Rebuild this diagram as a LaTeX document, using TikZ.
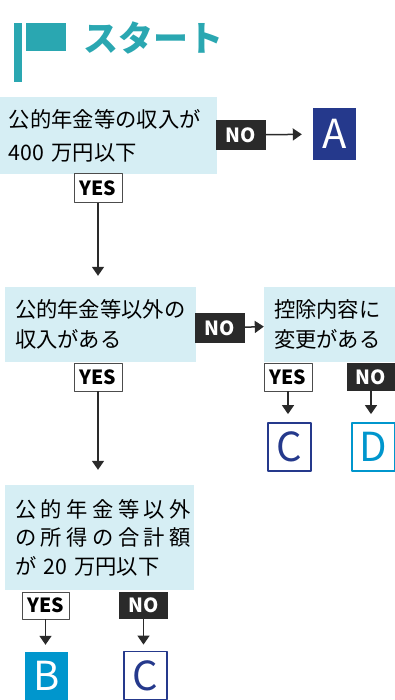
\documentclass[tikz,border=0pt]{standalone}
\usepackage{fontspec}
\setmainfont{Noto Sans CJK JP}
\newfontfamily\jpwide[LetterSpace=21]{Noto Sans CJK JP}
\newfontfamily\jpplain{Noto Sans CJK JP}
\usetikzlibrary{arrows.meta}
\definecolor{qfill}{HTML}{D6EEF4}
\definecolor{startteal}{HTML}{2AA7B1}
\definecolor{navy}{HTML}{25398C}
\definecolor{skyblue}{HTML}{0096CD}
\definecolor{darkline}{HTML}{2A2A2A}
\begin{document}
\begin{tikzpicture}[x=1pt, y=-1pt, line join=round, >={Triangle[length=9pt,width=12pt]},
	qbox/.style={fill=qfill, inner xsep=10pt, inner ysep=0pt, align=left, font=\fontsize{21.3}{30}\selectfont},
	nobox/.style={fill=darkline, text=white, minimum width=50pt, minimum height=30pt, inner sep=0pt, font=\fontsize{19.5}{19.5}\selectfont\bfseries},
	yesbox/.style={fill=white, draw=black!70, line width=0.8pt, minimum width=48pt, minimum height=29pt, inner sep=0pt, font=\fontsize{19.5}{19.5}\selectfont\bfseries},
	fullans/.style={minimum width=43pt, minimum height=50pt, inner sep=0pt, text=white, font=\fontsize{40}{40}\selectfont},
	openans/.style={fill=white, line width=1.8pt, minimum width=43pt, minimum height=48pt, inner sep=0pt, font=\fontsize{40}{40}\selectfont},
	link/.style={->, draw=darkline, line width=1.5pt}]
	\useasboundingbox (0,0) rectangle (395,700);
	\fill[startteal] (14,23) rectangle (22,82);
	\fill[startteal] (26,23) rectangle (66,51);
	\node[text=startteal, font=\fontsize{35}{35}\selectfont\bfseries, anchor=west] (start) at (80,38) {スタート};
	\node[qbox, minimum width=217pt, minimum height=77pt, text width=199pt, inner xsep=9pt, font=\fontsize{21.3}{33}\selectfont] (q1) at (108.5,135.5) {公的年金等の収入が\\400 万円以下};
	\node[nobox] (no1) at (241,135) {NO};
	\node[fullans, fill=navy, minimum height=52pt] (ansA) at (334.5,134) {A};
	\node[yesbox] (yes1) at (98,188) {YES};
	\node[qbox, minimum width=191pt, minimum height=75pt, text width=171pt] (q2) at (100.5,324.5) {公的年金等以外の\\収入がある};
	\node[nobox] (no2) at (220,328) {NO};
	\node[qbox, minimum width=131pt, minimum height=75pt, text width=111pt] (q3) at (329.5,324.5) {控除内容に\\変更がある};
	\node[yesbox, minimum height=28pt] (yes2) at (98,377) {YES};
	\node[yesbox, minimum height=28pt] (yes3) at (288,377) {YES};
	\node[nobox, minimum width=48pt, minimum height=28pt] (no3) at (371,377) {NO};
	\node[openans, draw=navy, text=navy] (ansC1) at (289.5,447) {C};
	\node[openans, draw=skyblue, text=skyblue] (ansD) at (373.5,447) {D};
	\node[qbox, minimum width=189pt, minimum height=105pt, text width=169pt, font=\fontsize{21.3}{28.5}\selectfont\jpwide] (q4) at (99.5,537.5) {公的年金等以外\\の所得の合計額\\\jpplain が 20 万円以下};
	\node[yesbox, minimum width=47pt, minimum height=27pt] (yes4) at (45.5,605.5) {YES};
	\node[nobox, minimum width=49pt, minimum height=27pt] (no4) at (143.5,605.5) {NO};
	\node[fullans, fill=skyblue, minimum height=48pt] (ansB) at (46.5,676) {B};
	\node[openans, draw=navy, text=navy] (ansC2) at (145.5,675.5) {C};
	\draw[link, shorten >=11pt] (no1) -- (ansA);
	\draw[link, shorten >=11pt] (yes1) -- (yes1 |- q2.north);
	\draw[link] (no2) -- (q3);
	\draw[link, shorten >=15pt] (yes2) -- (yes2 |- q4.north);
	\draw[link, shorten >=8pt] (yes3) -- (yes3 |- ansC1.north);
	\draw[link, shorten >=8pt] (no3) -- (no3 |- ansD.north);
	\draw[link, shorten >=7pt] (yes4) -- (yes4 |- ansB.north);
	\draw[link, shorten >=6pt] (no4) -- (no4 |- ansC2.north);
\end{tikzpicture}
\end{document}
